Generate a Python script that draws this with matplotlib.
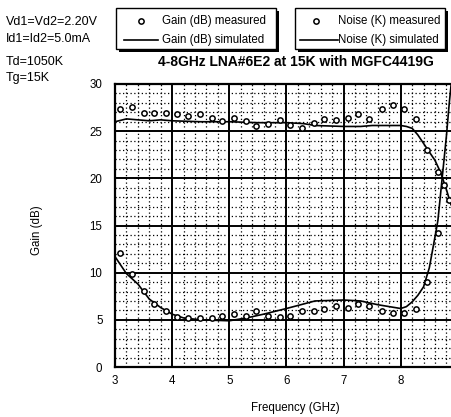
import matplotlib.pyplot as plt
from matplotlib.lines import Line2D
from matplotlib.patches import Rectangle
from matplotlib.ticker import MultipleLocator

plt.rcParams['font.family'] = ['Liberation Sans', 'DejaVu Sans']

# measured gain (dB)
gain_meas_f = [3.08, 3.29, 3.51, 3.69, 3.89, 4.08, 4.28, 4.48, 4.69, 4.87, 5.08, 5.29,
               5.47, 5.68, 5.89, 6.06, 6.27, 6.49, 6.66, 6.87, 7.08, 7.26, 7.45, 7.67,
               7.86, 8.06, 8.27, 8.46, 8.66, 8.76, 8.85]
gain_meas = [27.3, 27.6, 26.95, 26.95, 26.95, 26.8, 26.6, 26.8, 26.4, 26.1, 26.4, 26.1,
             25.5, 25.8, 26.2, 25.7, 25.3, 25.9, 26.3, 26.2, 26.4, 26.8, 26.3, 27.4,
             27.8, 27.4, 26.3, 23.0, 20.7, 19.3, 17.7]

# simulated gain (dB)
gain_sim_f = [3.0, 3.2, 3.4, 3.6, 3.8, 4.0, 4.5, 5.0, 5.5, 6.0, 6.3, 6.5, 7.0, 7.3,
              7.5, 8.0, 8.1, 8.2, 8.3, 8.4, 8.5, 8.6, 8.7, 8.8, 8.88]
gain_sim = [26.0, 26.3, 26.2, 26.1, 26.2, 26.1, 26.0, 26.0, 25.9, 25.9, 25.8, 25.6,
            25.5, 25.5, 25.6, 25.6, 25.5, 25.3, 24.6, 23.7, 22.8, 21.9, 20.6, 18.8, 17.2]

# measured noise (K)
noise_meas_f = [3.09, 3.29, 3.51, 3.69, 3.89, 4.09, 4.27, 4.48, 4.69, 4.87, 5.08, 5.29,
                5.47, 5.68, 5.89, 6.06, 6.27, 6.49, 6.66, 6.87, 7.08, 7.26, 7.45, 7.67,
                7.86, 8.06, 8.27, 8.46, 8.65]
noise_meas = [12.1, 9.9, 8.1, 6.7, 5.9, 5.3, 5.2, 5.2, 5.2, 5.4, 5.6, 5.4,
              5.9, 5.4, 5.3, 5.4, 5.9, 5.9, 6.1, 6.5, 6.3, 6.7, 6.5, 5.9,
              5.7, 5.7, 6.2, 9.0, 14.2]

# simulated noise (K)
noise_sim_f = [3.0, 3.2, 3.4, 3.6, 3.8, 4.0, 4.2, 4.5, 5.0, 5.3, 5.6, 6.0, 6.5, 7.0,
               7.3, 7.6, 8.0, 8.1, 8.2, 8.3, 8.4, 8.5, 8.6, 8.65, 8.7, 8.75, 8.8,
               8.85, 8.9]
noise_sim = [11.7, 9.9, 8.8, 7.2, 6.3, 5.6, 5.2, 5.0, 4.9, 5.2, 5.6, 6.2, 7.0, 7.1,
             7.0, 6.6, 6.2, 6.4, 6.9, 7.6, 8.5, 10.5, 13.8, 15.5, 18.5, 21.5, 24.5,
             28.0, 31.0]

fig = plt.figure(figsize=(4.51, 4.17), dpi=100)
W, H = 451.0, 417.0
ax = fig.add_axes([115 / W, 1 - 367 / H, 1 - 115 / W, (367 - 84) / H])

ax.set_xlim(3, 8.88)
ax.set_ylim(0, 30)
ax.xaxis.set_major_locator(MultipleLocator(1))
ax.xaxis.set_minor_locator(MultipleLocator(0.2))
ax.yaxis.set_major_locator(MultipleLocator(5))
ax.yaxis.set_minor_locator(MultipleLocator(1))
ax.grid(which='major', color='black', lw=1.4)
ax.grid(which='minor', color='black', lw=0.9, ls=(0, (1, 2)))
ax.tick_params(which='both', length=0, labelsize=8.3)
ax.tick_params(axis='y', pad=9)
ax.tick_params(axis='x', pad=6)
ax.spines['right'].set_visible(False)
for s in ['left', 'bottom', 'top']:
    ax.spines[s].set_linewidth(1.6)

ms = dict(marker='o', ls='none', ms=3.8, mfc='white', mec='black', mew=1.1)
ax.plot(gain_sim_f, gain_sim, color='black', lw=1.2)
ax.plot(noise_sim_f, noise_sim, color='black', lw=1.2)
ax.plot(gain_meas_f, gain_meas, **ms)
ax.plot(noise_meas_f, noise_meas, **ms)

# axis titles placed in figure pixels
fig.text(295 / W, 1 - 408 / H, 'Frequency (GHz)', fontsize=8.3, ha='center', va='center')
fig.text(37 / W, 1 - 230 / H, 'Gain (dB)', fontsize=8.3, ha='center', va='center',
         rotation=90)

# condition notes at top left
notes = ['Vd1=Vd2=2.20V', 'Id1=Id2=5.0mA', 'Td=1050K', 'Tg=15K']
for txt, yy in zip(notes, [22, 39, 62, 78]):
    fig.text(6 / W, 1 - yy / H, txt, fontsize=9, va='center')

fig.text(296 / W, 1 - 62 / H, '4-8GHz LNA#6E2 at 15K with MGFC4419G',
         fontsize=10, fontweight='bold', ha='center', va='center')


def legend_box(x0, x1, mx, lx0, lx1, tx, label1, label2):
    y0, y1 = 8, 49
    fig.add_artist(Rectangle((x0 / W + 3 / W, 1 - (y1 + 3) / H), (x1 - x0) / W, (y1 - y0) / H,
                             transform=fig.transFigure, facecolor='black', edgecolor='none'))
    fig.add_artist(Rectangle((x0 / W, 1 - y1 / H), (x1 - x0) / W, (y1 - y0) / H,
                             transform=fig.transFigure, facecolor='white', edgecolor='black', lw=1))
    fig.add_artist(Line2D([mx / W], [1 - 21 / H], transform=fig.transFigure, **ms))
    fig.add_artist(Line2D([lx0 / W, lx1 / W], [1 - 40 / H, 1 - 40 / H],
                          transform=fig.transFigure, color='black', lw=1.2))
    fig.text(tx / W, 1 - 21 / H, label1, fontsize=8.3, va='center')
    fig.text(tx / W, 1 - 40 / H, label2, fontsize=8.3, va='center')


legend_box(116, 276, 141, 124, 158, 162, 'Gain (dB) measured', 'Gain (dB) simulated')
legend_box(295, 445, 316, 300, 338, 338, 'Noise (K) measured', 'Noise (K) simulated')

fig.savefig('out.png', dpi=100)
